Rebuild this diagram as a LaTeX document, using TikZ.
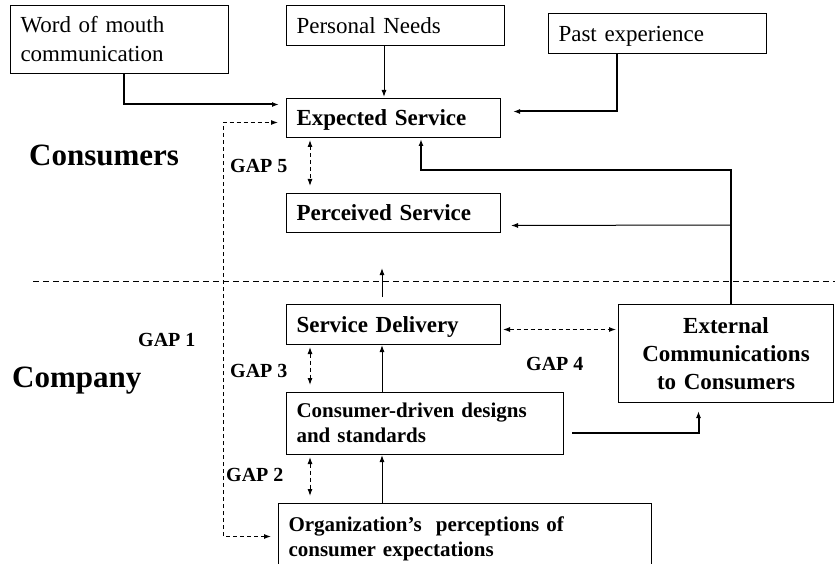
\documentclass[tikz,border=0pt]{standalone}
\usepackage{fontspec}
\setmainfont{Liberation Serif}
\usetikzlibrary{arrows.meta}

\begin{document}
\begin{tikzpicture}[x=1pt,y=-1pt,
  frame/.style={draw,line width=1pt,anchor=north west,inner xsep=10pt,inner ysep=0pt,align=left},
  box/.style={frame,font=\fontsize{23}{29}\selectfont,execute at begin node={\rule{0pt}{20pt}},execute at end node={\rule[-4pt]{0pt}{4pt}}},
  bbox/.style={box,font=\fontsize{23}{28}\selectfont\bfseries},
  sbox/.style={frame,font=\fontsize{21}{25}\selectfont\bfseries,execute at begin node={\rule{0pt}{17pt}},execute at end node={\rule[-5pt]{0pt}{5pt}}},
  gap/.style={anchor=base west,inner sep=0pt,font=\fontsize{20}{24}\selectfont\bfseries},
  side/.style={anchor=base west,inner sep=0pt,font=\fontsize{31}{36}\selectfont\bfseries},
  arrow/.style={line width=1pt,-{Latex[length=7pt,width=5pt]}},
  thickarrow/.style={arrow,line width=2pt},
  gaparrow/.style={line width=1pt,dash pattern=on 4pt off 3pt,{Latex[length=7pt,width=5pt]}-{Latex[length=7pt,width=5pt]}}]
  \useasboundingbox (0,0) rectangle (835,564);
  \clip (0,0) rectangle (835,564);

  \node[box,text width=198pt,minimum height=68pt] (wom) at (10,5) {Word of mouth\\communication};
  \node[box,text width=198pt,minimum height=40pt] (needs) at (286,5) {Personal Needs};
  \node[box,text width=198pt,minimum height=40pt] (past) at (548,13) {Past experience};
  \node[bbox,text width=194pt,minimum height=39pt] (expected) at (286,98) {Expected Service};
  \node[bbox,text width=194pt,minimum height=39pt] (perceived) at (286,193) {Perceived Service};
  \node[bbox,text width=194pt,minimum height=40pt] (delivery) at (286,304) {Service Delivery};
  \node[sbox,text width=257pt,minimum height=62pt] (designs) at (286,392) {Consumer-driven designs\\and standards};
  \node[sbox,text width=353pt,minimum height=68pt] (org) at (278,503) {Organization's\ \ perceptions of\\consumer expectations};
  \node[bbox,align=center,text width=195pt,minimum height=98pt] (external) at (618,304) {External\\Communications\\to Consumers};

\node[side] (consumers) at (29,166) {Consumers};
\node[side] (company) at (12,387) {Company};
\node[gap] (gap1) at (138,346) {GAP 1};
\node[gap] (gap2) at (226,481) {GAP 2};
\node[gap] (gap3) at (230,377) {GAP 3};
\node[gap] (gap4) at (526,370) {GAP 4};
\node[gap] (gap5) at (230,173) {GAP 5};

\coordinate (gapx) at (310,0);
\coordinate (upx) at (382,0);
\coordinate (needx) at (384,0);
\coordinate (gapcol) at (223,300);
\coordinate (turn) at (421,170);

  % consumer side
  \draw[thickarrow,shorten >=7pt] ([xshift=4pt]wom.south) |- ([yshift=13.5pt]expected.west);
  \draw[arrow,shorten >=1pt] (needs.south -| needx) -- (expected.north -| needx);
  \draw[thickarrow,shorten >=12pt] ([xshift=-41pt]past.south) |- ([yshift=6.5pt]expected.east);
  \draw[thickarrow,shorten >=1pt] ([xshift=4.5pt]external.north) |- (turn) -- (turn |- expected.south);
  \draw[arrow,shorten >=10pt] ([xshift=4.5pt,yshift=79pt]external.north) -- ([yshift=-12.5pt]perceived.east);
  \draw[arrow,shorten <=7pt,shorten >=35pt] (delivery.north -| upx) -- (perceived.south -| upx);

  % company side
  \foreach \from/\to in {designs.north/delivery.south,org.north/designs.south}
    \draw[arrow] (\from -| upx) -- (\to -| upx);
  \foreach \from/\to in {expected.south/perceived.north,delivery.south/designs.north,designs.south/org.north}
    \draw[gaparrow,shorten <=2pt,shorten >=7pt] (\from -| gapx) -- (\to -| gapx);
  \draw[thickarrow,shorten <=8pt,shorten >=8pt] ([yshift=-9pt]designs.east) -| ([xshift=-27.5pt]external.south);
  \draw[gaparrow,shorten <=2pt,shorten >=2pt] ([yshift=-5pt]delivery.east) -- ([yshift=-5pt]delivery.east -| external.west);
  \draw[gaparrow,shorten <=7pt,shorten >=8pt] ([yshift=1pt]org.west) -| (gapcol) |- ([yshift=-4.5pt]expected.west);

  \draw[line width=1pt,dash pattern=on 6pt off 4pt] (33,281) -- (835,281);
\end{tikzpicture}
\end{document}
